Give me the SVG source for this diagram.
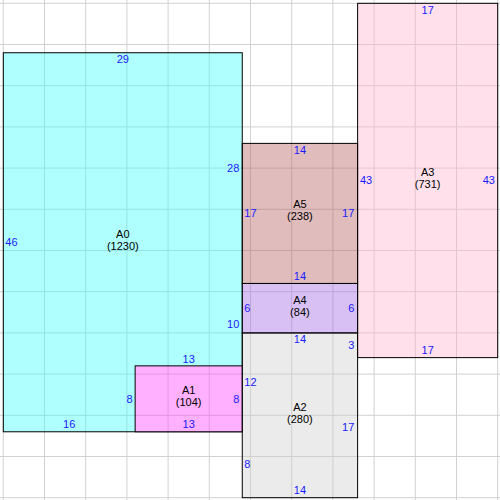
<svg xmlns="http://www.w3.org/2000/svg" width="500" height="500" viewBox="0 0 500 500">
<style>
.grid line{stroke:#d2d2d2;stroke-width:1}
.box{stroke:#000;stroke-width:1;fill-opacity:0.4}
.name{font-family:"Liberation Sans",Arial,sans-serif;font-size:11px;fill:#000;text-anchor:middle}
.dim{font-family:"Liberation Sans",Arial,sans-serif;font-size:11px;fill:#1a1aff}
.m{text-anchor:middle}
.e{text-anchor:end}
.s{text-anchor:start}
</style>
<rect x="0" y="0" width="500" height="500" fill="#fff"/>
<g class="grid">
<line x1="3.3" y1="0" x2="3.3" y2="500"/>
<line x1="44.5" y1="0" x2="44.5" y2="500"/>
<line x1="85.7" y1="0" x2="85.7" y2="500"/>
<line x1="126.9" y1="0" x2="126.9" y2="500"/>
<line x1="168.1" y1="0" x2="168.1" y2="500"/>
<line x1="209.3" y1="0" x2="209.3" y2="500"/>
<line x1="250.5" y1="0" x2="250.5" y2="500"/>
<line x1="291.7" y1="0" x2="291.7" y2="500"/>
<line x1="332.9" y1="0" x2="332.9" y2="500"/>
<line x1="374.1" y1="0" x2="374.1" y2="500"/>
<line x1="415.3" y1="0" x2="415.3" y2="500"/>
<line x1="456.5" y1="0" x2="456.5" y2="500"/>
<line x1="497.7" y1="0" x2="497.7" y2="500"/>
<line y1="3.3" x1="0" y2="3.3" x2="500"/>
<line y1="44.5" x1="0" y2="44.5" x2="500"/>
<line y1="85.7" x1="0" y2="85.7" x2="500"/>
<line y1="126.9" x1="0" y2="126.9" x2="500"/>
<line y1="168.1" x1="0" y2="168.1" x2="500"/>
<line y1="209.3" x1="0" y2="209.3" x2="500"/>
<line y1="250.5" x1="0" y2="250.5" x2="500"/>
<line y1="291.7" x1="0" y2="291.7" x2="500"/>
<line y1="332.9" x1="0" y2="332.9" x2="500"/>
<line y1="374.1" x1="0" y2="374.1" x2="500"/>
<line y1="415.3" x1="0" y2="415.3" x2="500"/>
<line y1="456.5" x1="0" y2="456.5" x2="500"/>
<line y1="497.7" x1="0" y2="497.7" x2="500"/>
</g>
<g id="A0">
<rect class="box" x="3.3" y="52.74" width="238.96" height="379.04" fill="#3affff"/>
<text class="name" x="122.8" y="238">A0</text>
<text class="name" x="122.8" y="250">(1230)</text>
<text class="dim m" x="122.8" y="63.2">29</text>
<text class="dim s" x="5.3" y="246">46</text>
<text class="dim e" x="239.3" y="171.8">28</text>
<text class="dim e" x="239.3" y="328.2">10</text>
<text class="dim m" x="69.2" y="428.4">16</text>
<text class="dim m" x="188.7" y="362.5">13</text>
<text class="dim e" x="132.6" y="402.8">8</text>
</g>
<g id="A1">
<rect x="135.14" y="365.86" width="107.12" height="65.92" fill="#fff"/>
<g class="grid">
<line x1="168.1" y1="365.86" x2="168.1" y2="431.78"/>
<line x1="209.3" y1="365.86" x2="209.3" y2="431.78"/>
<line y1="374.1" x1="135.14" y2="374.1" x2="242.26"/>
<line y1="415.3" x1="135.14" y2="415.3" x2="242.26"/>
</g>
<rect class="box" x="135.14" y="365.86" width="107.12" height="65.92" fill="#ff3aff"/>
<text class="name" x="188.7" y="394">A1</text>
<text class="name" x="188.7" y="406">(104)</text>
<text class="dim e" x="239.3" y="402.8">8</text>
<text class="dim m" x="188.7" y="428.4">13</text>
</g>
<g id="A2">
<rect class="box" x="242.26" y="332.9" width="115.36" height="164.8" fill="#cdcdcd"/>
<text class="name" x="299.9" y="410.7">A2</text>
<text class="name" x="299.9" y="422.7">(280)</text>
<text class="dim m" x="299.9" y="343.2">14</text>
<text class="dim s" x="244.3" y="386">12</text>
<text class="dim s" x="244.3" y="467.8">8</text>
<text class="dim e" x="354.3" y="348.8">3</text>
<text class="dim e" x="354.3" y="431">17</text>
<text class="dim m" x="299.9" y="494.3">14</text>
</g>
<g id="A3">
<rect class="box" x="357.62" y="3.3" width="140.08" height="354.32" fill="#ffb2cd"/>
<text class="name" x="427.7" y="175.7">A3</text>
<text class="name" x="427.7" y="187.7">(731)</text>
<text class="dim m" x="427.7" y="13.8">17</text>
<text class="dim s" x="360" y="184">43</text>
<text class="dim e" x="495" y="184">43</text>
<text class="dim m" x="427.7" y="354.2">17</text>
</g>
<g id="A4">
<rect class="box" x="242.26" y="283.46" width="115.36" height="49.44" fill="#9d62e4"/>
<text class="name" x="299.9" y="303.8">A4</text>
<text class="name" x="299.9" y="315.8">(84)</text>
<text class="dim s" x="244.3" y="311.7">6</text>
<text class="dim e" x="354.3" y="311.7">6</text>
</g>
<g id="A5">
<rect class="box" x="242.26" y="143.38" width="115.36" height="140.08" fill="#b25858"/>
<text class="name" x="299.9" y="208.3">A5</text>
<text class="name" x="299.9" y="220.3">(238)</text>
<text class="dim m" x="299.9" y="153.9">14</text>
<text class="dim s" x="244.3" y="217">17</text>
<text class="dim e" x="354.3" y="217">17</text>
<text class="dim m" x="299.9" y="280.4">14</text>
</g>
<g id="connectors"/>
</svg>
